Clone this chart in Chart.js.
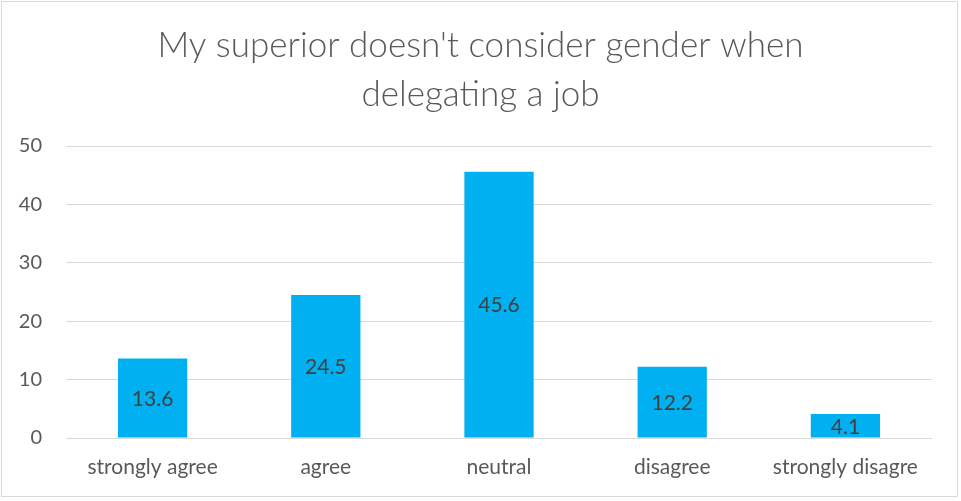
<!DOCTYPE html>
<html><head><meta charset="utf-8">
<script src="https://cdn.jsdelivr.net/npm/chart.js@4/dist/chart.umd.min.js"></script>
<style>html,body{margin:0;padding:0;background:#fff}#wrap{width:961px;height:501px;position:relative}</style>
</head><body><div id="wrap"><canvas id="c" width="961" height="501"></canvas></div>
<script>
const categories = ["strongly agree", "agree", "neutral", "disagree", "strongly disagre"];
const values = [13.6, 24.5, 45.6, 12.2, 4.1];
const yTicks = [0, 10, 20, 30, 40, 50];
const titleLines = ["My superior doesn't consider gender when", "delegating a job"];

const FONT = "Lato, 'Open Sans', sans-serif";
const TXT = "#595959";

const frame = {
  id: 'frame',
  beforeDraw(chart) {
    const ctx = chart.ctx;
    ctx.save();
    ctx.fillStyle = '#fff';
    ctx.fillRect(0, 0, chart.width, chart.height);
    ctx.strokeStyle = '#d9d9d9';
    ctx.lineWidth = 1;
    ctx.strokeRect(1.5, 1.5, 956, 495);
    ctx.restore();
  }
};
const valueLabels = {
  id: 'valueLabels',
  afterDatasetsDraw(chart) {
    const ctx = chart.ctx;
    const meta = chart.getDatasetMeta(0);
    ctx.save();
    ctx.font = "21px " + FONT;
    ctx.fillStyle = "#404040";
    ctx.textAlign = 'center';
    ctx.textBaseline = 'middle';
    meta.data.forEach((bar, i) => {
      const p = bar.getProps(['x', 'y', 'base'], true);
      ctx.fillText(values[i].toFixed(1), p.x, (p.y + p.base) / 2 + 1);
    });
    ctx.restore();
  }
};

new Chart(document.getElementById('c'), {
  type: 'bar',
  data: {
    labels: categories,
    datasets: [{
      data: values,
      backgroundColor: '#00B0F0',
      categoryPercentage: 1,
      barPercentage: 0.4
    }]
  },
  options: {
    responsive: false,
    animation: false,
    layout: { padding: 0 },
    plugins: {
      legend: { display: false },
      tooltip: { enabled: false },
      title: {
        display: true,
        text: titleLines,
        color: TXT,
        font: { family: FONT, size: 35, weight: '300', lineHeight: 1.4 },
        padding: { top: 21, bottom: 27 }
      }
    },
    scales: {
      x: {
        grid: { display: false, drawTicks: false },
        border: { display: false },
        ticks: { color: TXT, font: { family: FONT, size: 21 }, padding: 17, maxRotation: 0, autoSkip: false },
        afterFit(s) { s.height = 501 - 438; }
      },
      y: {
        min: 0, max: 50,
        afterBuildTicks(s) { s.ticks = yTicks.map(v => ({ value: v })); },
        grid: { color: '#d9d9d9', lineWidth: 1, drawTicks: false },
        border: { display: false },
        ticks: { color: TXT, font: { family: FONT, size: 20 }, padding: 24 },
        afterFit(s) { s.width = 66; }
      },
      yRight: {
        position: 'right',
        min: 0, max: 50,
        grid: { display: false, drawTicks: false },
        border: { display: false },
        ticks: { display: false },
        afterFit(s) { s.width = 29; }
      }
    }
  },
  plugins: [frame, valueLabels]
});
</script></body></html>
